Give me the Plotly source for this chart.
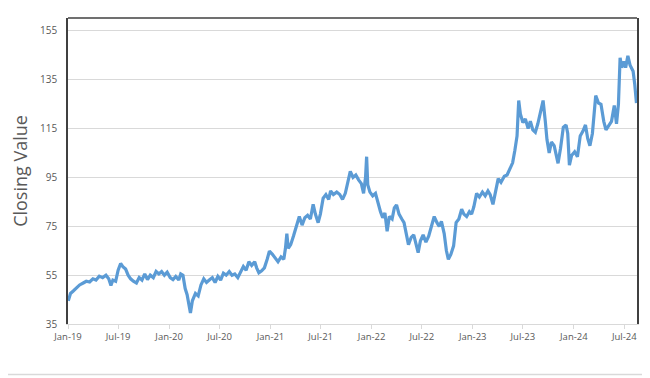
import plotly.graph_objects as go

dates = [
"2019-01-02","2019-01-10","2019-01-20","2019-02-01","2019-02-12","2019-02-25","2019-03-08","2019-03-20",
"2019-04-01","2019-04-12","2019-04-24","2019-05-06","2019-05-18","2019-05-28","2019-06-05","2019-06-12",
"2019-06-22","2019-07-01","2019-07-10","2019-07-18","2019-07-28","2019-08-06","2019-08-15","2019-08-25",
"2019-09-05","2019-09-15","2019-09-25","2019-10-05","2019-10-15","2019-10-25","2019-11-05","2019-11-15",
"2019-11-25","2019-12-05","2019-12-15","2019-12-25",
"2020-01-05","2020-01-15","2020-01-25","2020-02-05","2020-02-12","2020-02-20","2020-02-28","2020-03-06",
"2020-03-12","2020-03-18","2020-03-25","2020-04-05","2020-04-15","2020-04-25","2020-05-05","2020-05-15",
"2020-05-25","2020-06-05","2020-06-15","2020-06-25","2020-07-05","2020-07-15","2020-07-25","2020-08-05",
"2020-08-15","2020-08-25","2020-09-05","2020-09-15","2020-09-25","2020-10-05","2020-10-15","2020-10-25",
"2020-11-05","2020-11-12","2020-11-20","2020-11-30","2020-12-10","2020-12-20","2020-12-28",
"2021-01-08","2021-01-18","2021-01-28","2021-02-08","2021-02-18","2021-02-24","2021-03-01","2021-03-06",
"2021-03-15","2021-03-25","2021-04-05","2021-04-15","2021-04-25","2021-05-05","2021-05-15","2021-05-25",
"2021-06-04","2021-06-12","2021-06-22","2021-06-30","2021-07-10","2021-07-20","2021-07-30","2021-08-06",
"2021-08-16","2021-08-28","2021-09-08","2021-09-18","2021-09-28","2021-10-08","2021-10-16","2021-10-26",
"2021-11-05","2021-11-15","2021-11-25","2021-12-03","2021-12-10","2021-12-14","2021-12-18","2021-12-26",
"2022-01-05","2022-01-15","2022-01-25","2022-02-02","2022-02-10","2022-02-18","2022-02-26","2022-03-06",
"2022-03-16","2022-03-24","2022-04-01","2022-04-10","2022-04-20","2022-04-28","2022-05-06","2022-05-14",
"2022-05-24","2022-06-02","2022-06-12","2022-06-18","2022-06-26","2022-07-06","2022-07-16","2022-07-26",
"2022-08-05","2022-08-15","2022-08-25","2022-09-02","2022-09-10","2022-09-20","2022-09-28","2022-10-05",
"2022-10-14","2022-10-24","2022-11-02","2022-11-12","2022-11-22","2022-11-30","2022-12-10","2022-12-20",
"2022-12-28",
"2023-01-05","2023-01-15","2023-01-25","2023-02-05","2023-02-15","2023-02-25","2023-03-05","2023-03-15",
"2023-03-25","2023-04-03","2023-04-13","2023-04-25","2023-05-05","2023-05-15","2023-05-25","2023-06-02",
"2023-06-10","2023-06-16","2023-06-22","2023-07-01","2023-07-10","2023-07-20","2023-07-28","2023-08-06",
"2023-08-15","2023-08-24","2023-09-01","2023-09-12","2023-09-20","2023-09-26","2023-10-04","2023-10-12",
"2023-10-22","2023-10-30","2023-11-05","2023-11-14","2023-11-24","2023-12-04","2023-12-10","2023-12-16",
"2023-12-24",
"2024-01-04","2024-01-14","2024-01-24","2024-02-03","2024-02-12","2024-02-20","2024-02-28","2024-03-08",
"2024-03-20","2024-03-30","2024-04-08","2024-04-18","2024-04-26","2024-05-06","2024-05-16","2024-05-26",
"2024-06-03","2024-06-10","2024-06-16","2024-06-22","2024-06-30","2024-07-06","2024-07-14","2024-07-22",
"2024-08-02","2024-08-08","2024-08-14",
]

closing = [
44.5,47.5,48.5,50.0,51.0,51.8,52.5,52.2,
53.5,53.0,54.6,54.0,55.0,53.5,50.8,53.0,
52.5,57.0,59.8,58.5,57.5,55.0,53.5,52.5,
51.8,54.0,53.0,55.5,53.2,55.0,54.0,56.5,
55.5,56.5,55.0,56.2,
54.0,53.2,54.5,53.0,55.5,55.0,49.5,47.0,
43.0,39.5,44.5,47.5,46.5,51.0,53.5,52.0,
53.0,54.0,52.0,54.5,53.0,55.8,55.0,56.5,
55.0,55.5,54.0,56.5,58.5,57.0,60.5,59.0,
60.5,58.0,56.0,56.8,58.0,61.5,64.8,
63.5,62.0,60.5,62.5,61.5,66.0,72.0,66.0,
67.5,71.0,75.0,79.0,75.5,78.5,79.5,78.0,
84.0,80.0,76.5,80.0,86.5,88.0,86.0,89.5,
88.0,89.0,88.0,86.0,88.5,94.0,97.5,95.0,
96.0,94.0,92.5,88.5,95.0,103.5,92.0,89.0,
87.5,88.5,84.0,81.0,78.5,80.5,73.0,79.0,
78.0,82.5,83.8,80.0,78.0,76.5,72.0,67.5,
70.5,71.5,67.0,64.2,69.0,71.5,68.5,71.0,
75.0,79.0,76.5,75.0,77.0,72.0,65.0,61.5,
63.5,67.0,76.5,78.0,82.0,80.0,79.0,81.0,
80.0,
83.0,88.5,87.0,89.0,87.5,89.5,88.0,84.0,
89.0,94.5,93.0,95.5,96.0,98.5,101.0,106.0,
112.0,126.5,121.0,117.5,119.0,115.0,118.0,114.5,
113.5,117.0,120.5,126.5,118.0,110.5,105.0,109.5,
108.0,104.0,100.8,107.0,115.5,116.5,113.0,100.0,
104.0,
105.5,103.5,112.0,114.0,116.5,111.0,108.0,113.0,
128.5,125.5,125.0,118.0,114.5,116.5,118.0,124.5,
117.0,125.0,144.0,140.0,142.5,140.0,144.8,141.0,
138.5,133.0,125.5,
]

tick_dates = ["2019-01-01","2019-07-01","2020-01-01","2020-07-01","2021-01-01","2021-07-01",
              "2022-01-01","2022-07-01","2023-01-01","2023-07-01","2024-01-01","2024-07-01"]
tick_labels = ["Jan-19","Jul-19","Jan-20","Jul-20","Jan-21","Jul-21",
               "Jan-22","Jul-22","Jan-23","Jul-23","Jan-24","Jul-24"]
y_ticks = [35, 55, 75, 95, 115, 135, 155]

fig = go.Figure()
fig.add_trace(go.Scatter(x=dates, y=closing, mode="lines",
                         line=dict(color="#5B9BD5", width=3.2), hoverinfo="skip"))

# page body has an 8px margin; figure is sized so the plot lands where the reference has it
FW, FH = 642, 370
ML, MT, MR, MB = 60, 10, 13, 54
W, H = FW - ML - MR, FH - MT - MB
def px(x): return (x - ML) / W
def py(y): return (MT + H - y) / H

fig.update_layout(
    width=FW, height=FH,
    margin=dict(l=ML, r=MR, t=MT, b=MB),
    paper_bgcolor="white", plot_bgcolor="white",
    showlegend=False,
    font=dict(family="Open Sans", color="#595959"),
    xaxis=dict(
        range=["2019-01-01", "2024-08-16"],
        tickvals=tick_dates, ticktext=tick_labels,
        tickfont=dict(size=9.5, color="#595959"),
        showgrid=False, zeroline=False,
        showline=True, linecolor="#D9D9D9", linewidth=1,
        ticks="outside", ticklen=4, tickcolor="#D9D9D9",
    ),
    yaxis=dict(
        range=[35, 160.3], tickvals=y_ticks,
        tickfont=dict(size=10, color="#595959"),
        showgrid=True, gridcolor="#D9D9D9", gridwidth=1,
        zeroline=False,
        showline=True, linecolor="#404040", linewidth=1.5, mirror=True,
        ticks="", ticklabelstandoff=7,
        title=dict(text="Closing Value", font=dict(size=18, color="#595959"), standoff=10),
    ),
    shapes=[
        dict(type="line", xref="paper", yref="paper", x0=0, x1=1, y0=1, y1=1,
             line=dict(color="#404040", width=1.5)),
        dict(type="line", xref="paper", yref="paper",
             x0=px(638.5), x1=px(638.5), y0=py(-6), y1=py(366.5),
             line=dict(color="#D9D9D9", width=1.5)),
        dict(type="line", xref="paper", yref="paper",
             x0=px(-8), x1=px(638.5), y0=py(366.5), y1=py(366.5),
             line=dict(color="#D9D9D9", width=1.5)),
    ],
)

fig.write_html("out.html")
